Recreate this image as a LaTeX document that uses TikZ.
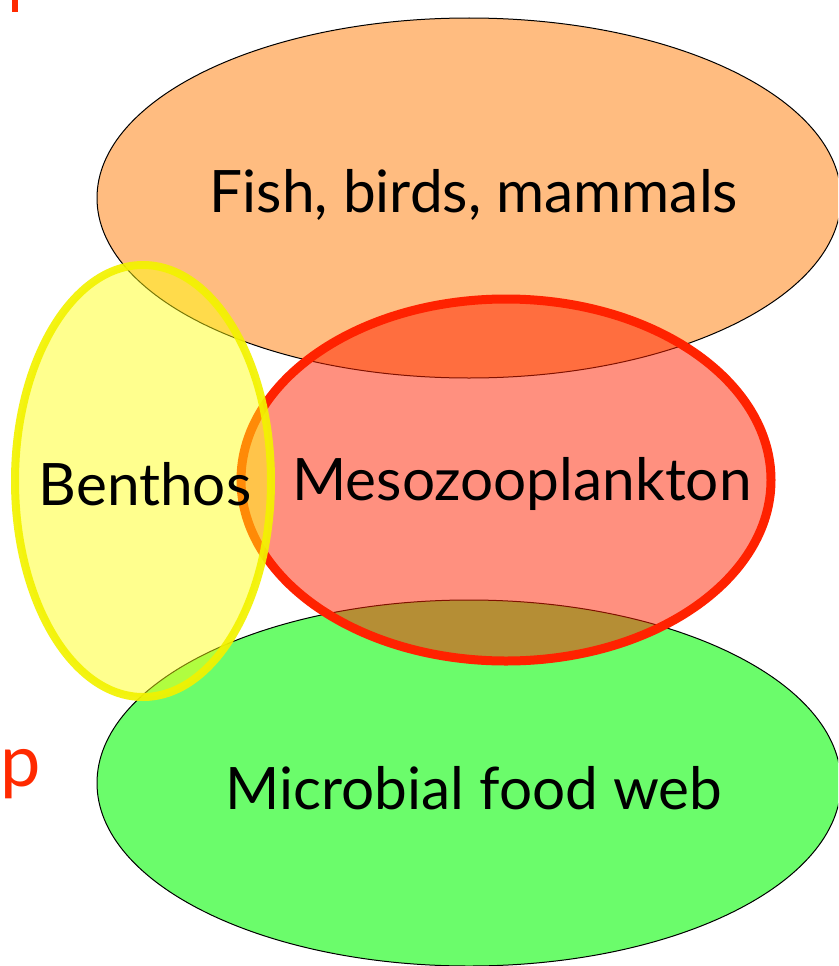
\documentclass[tikz,border=0pt]{standalone}
\usepackage{fontspec}
\setmainfont{Lato}
\usetikzlibrary{shapes.geometric}
\definecolor{fishfill}{HTML}{FFBC80}
\definecolor{microfill}{HTML}{6BFC6B}
\definecolor{mesored}{HTML}{FF2200}
\definecolor{benyel}{HTML}{F2F200}
\definecolor{benfill}{HTML}{FFFF10}
\definecolor{labred}{HTML}{FF2A00}
\tikzset{
  blob/.style={ellipse, inner sep=0pt, outer sep=0pt},
  lab/.style={font=\fontsize{58.5}{60}\selectfont, text=black, inner sep=0pt, anchor=center},
}
\begin{document}
\begin{tikzpicture}[x=1pt,y=-1pt]
\useasboundingbox (0,0) rectangle (838,966);
\fill[white] (0,0) rectangle (838,966);
\clip (0,0) rectangle (838,966);
\node[blob, draw=black, line width=1pt, fill=fishfill, minimum width=744pt, minimum height=360pt] (fish) at (469,198) {};
\node[blob, draw=black, line width=1pt, fill=microfill, minimum width=744pt, minimum height=366pt] (micro) at (469,783) {};
\node[blob, draw=mesored, line width=9pt, fill=mesored, fill opacity=0.5, draw opacity=1, minimum width=530pt, minimum height=362pt] (meso) at (506,480) {};
\node[blob, draw=benyel, line width=8pt, fill=benfill, fill opacity=0.47, draw opacity=0.92, minimum width=256pt, minimum height=432pt] (benthos) at (143,481) {};
\node[lab] (tfish) at (474,195) {Fish, birds, mammals};
\node[lab] (tmeso) at (522,484) {Mesozooplankton};
\node[lab] (tben) at (145,484) {Benthos};
\node[lab] (tmicro) at (474,788) {Microbial food web};
\node[lab, font=\fontsize{72}{72}\selectfont, text=labred, anchor=base west] (pmark) at (0,786) {p};
\fill[labred] (12,0) rectangle (18,12);
\end{tikzpicture}
\end{document}
